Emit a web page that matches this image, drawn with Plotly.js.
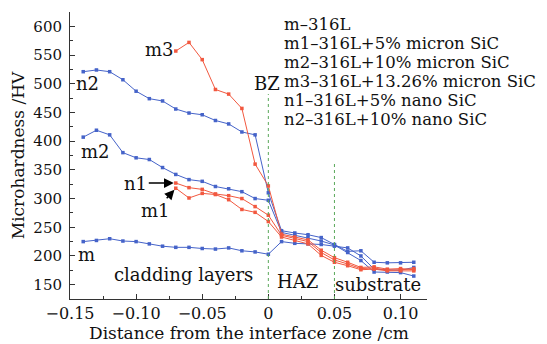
<!DOCTYPE html>
<html><head><meta charset="utf-8">
<script src="https://cdn.plot.ly/plotly-3.0.1.min.js"></script>
<style>html,body{margin:0;padding:0;background:#fff}</style>
</head><body><div id="chart" style="width:547px;height:344px"></div>
<script>
// distance from interface (cm)
const xFull = [-0.14,-0.13,-0.12,-0.11,-0.10,-0.09,-0.08,-0.07,-0.06,-0.05,-0.04,-0.03,-0.02,-0.01,0,
               0.01,0.02,0.03,0.04,0.05,0.06,0.07,0.08,0.09,0.10,0.11];
const xShort = [-0.07,-0.06,-0.05,-0.04,-0.03,-0.02,-0.01,0,
                0.01,0.02,0.03,0.04,0.05,0.06,0.07,0.08,0.09,0.10,0.11];
// microhardness (HV)
const mVals  = [225,227,230,226,225,221,217,215,215,213,212,214,209,207,203, 225,222,221,220,217, 214,200,177,176,175,180];
const m2Vals = [407,419,411,380,371,368,354,342,333,330,321,317,312,300,297, 241,236,232,226,219, 206,192,172,172,171,165];
const n2Vals = [521,524,521,507,487,474,470,456,449,446,436,430,416,411,310, 244,240,237,232,220, 208,209,189,188,188,189];
const m3Vals = [557,572,542,490,482,457,360,322, 238,233,228,210,197, 189,180,181,177,178,176];
const n1Vals = [327,319,316,308,305,300,286,271, 236,230,225,206,193, 186,178,179,175,176,178];
const m1Vals = [318,301,309,307,298,281,276,260, 233,227,221,201,189, 183,176,177,174,174,174];

const xTickVals = [-0.15,-0.10,-0.05,0,0.05,0.10];
const xTickText = ['\u22120.15','\u22120.10','\u22120.05','0','0.05','0.10'];
const yTickVals = [150,200,250,300,350,400,450,500,550,600];

const legendLines = ['m\u2013316L','m1\u2013316L+5% micron SiC','m2\u2013316L+10% micron SiC',
  'm3\u2013316L+13.26% micron SiC','n1\u2013316L+5% nano SiC','n2\u2013316L+10% nano SiC'];
const zoneBounds = [0, 0.05];

const BLUE = '#4563c9', RED = '#f2583f';
const FONT = 'DejaVu Serif';
function tr(x, y, c){ return {x:x, y:y, type:'scatter', mode:'lines+markers',
  line:{color:c, width:1}, marker:{color:c, size:3.5, symbol:'square'}, showlegend:false, hoverinfo:'skip'}; }

const data = [tr(xFull,mVals,BLUE), tr(xFull,m2Vals,BLUE), tr(xFull,n2Vals,BLUE),
              tr(xShort,m3Vals,RED), tr(xShort,n1Vals,RED), tr(xShort,m1Vals,RED)];

const ann = [];
const legY = [603,570,537,504,471,438];
legendLines.forEach((t,i)=>ann.push({x:0.0105, y:legY[i], xref:'x', yref:'y', text:t, showarrow:false,
  xanchor:'left', yanchor:'middle', font:{family:FONT, size:16.5, color:'#111'}}));
function lab(t,x,y,size){ ann.push({x:x,y:y,xref:'x',yref:'y',text:t,showarrow:false,
  xanchor:'center',yanchor:'middle',font:{family:FONT,size:size||18,color:'#111'}}); }
lab('m3',-0.0823,560); lab('n2',-0.1364,500); lab('m2',-0.131,382); lab('m',-0.1379,203);
lab('BZ',-0.001,501); lab('cladding layers',-0.0638,167); lab('HAZ',0.0217,156); lab('substrate',0.083,151);
ann.push({x:-0.07, y:n1Vals[0], xref:'x', yref:'y', ax:-40, ay:0, text:'n1', showarrow:true,
  arrowhead:2, arrowsize:1.3, arrowwidth:1.5, arrowcolor:'#000', standoff:2,
  font:{family:FONT,size:18,color:'#111'}});
ann.push({x:-0.07, y:m1Vals[0], xref:'x', yref:'y', ax:-20, ay:22, text:'m1', showarrow:true,
  arrowhead:2, arrowsize:1.3, arrowwidth:1.5, arrowcolor:'#000', standoff:2,
  font:{family:FONT,size:18,color:'#111'}});
// x-axis title placed as annotation below the tick labels
ann.push({x:0.5, y:-0.1185, xref:'paper', yref:'paper', text:'Distance from the interface zone /cm',
  showarrow:false, xanchor:'center', yanchor:'middle', font:{family:FONT,size:17,color:'#111'}});

const shapes = [
  {type:'line', xref:'x', yref:'y', x0:zoneBounds[0], x1:zoneBounds[0], y0:125, y1:482, line:{color:'#5aa85a', width:1, dash:'dot'}},
  {type:'line', xref:'x', yref:'y', x0:zoneBounds[1], x1:zoneBounds[1], y0:125, y1:365, line:{color:'#5aa85a', width:1, dash:'dot'}}
];

const layout = {
  width:547, height:344, margin:{l:70, r:120, t:12, b:45},
  paper_bgcolor:'#fff', plot_bgcolor:'#fff',
  font:{family:FONT, color:'#111'},
  xaxis:{range:[-0.15,0.12], tickmode:'array', tickvals:xTickVals, ticktext:xTickText,
    ticks:'inside', ticklen:5, tickcolor:'#333', showline:true, linecolor:'#333', linewidth:1,
    showgrid:false, zeroline:false, tickfont:{family:FONT,size:16,color:'#111'}, ticklabelstandoff:0,
    minor:{dtick:0.025, tick0:-0.15, ticks:'inside', ticklen:3, tickcolor:'#333'}, automargin:false},
  yaxis:{range:[125,625], tickmode:'array', tickvals:yTickVals,
    ticks:'inside', ticklen:5, tickcolor:'#333', showline:true, linecolor:'#333', linewidth:1,
    showgrid:false, zeroline:false, tickfont:{family:FONT,size:15,color:'#111'}, ticklabelstandoff:4,
    minor:{dtick:25, tick0:150, ticks:'inside', ticklen:3, tickcolor:'#333'}, automargin:false,
    title:{text:'Microhardness /HV', font:{family:FONT,size:17,color:'#111'}, standoff:4}},
  annotations:ann, shapes:shapes
};
Plotly.newPlot('chart', data, layout, {staticPlot:true, displayModeBar:false});
</script></body></html>
